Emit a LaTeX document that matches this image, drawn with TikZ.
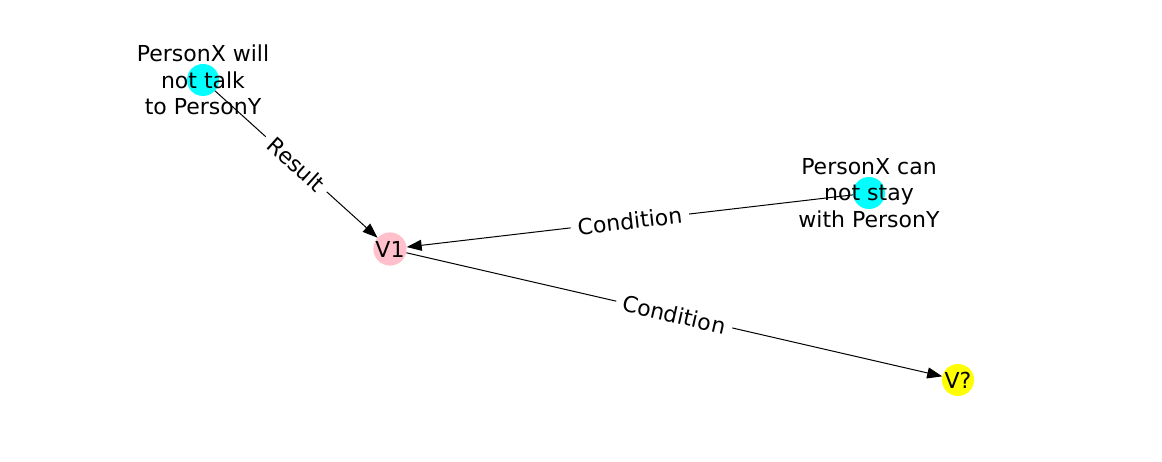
\documentclass[tikz,border=0pt]{standalone}
\usepackage{fontspec}
\setmainfont{DejaVu Sans}
\usetikzlibrary{arrows.meta}
\definecolor{nodecyan}{HTML}{00FFFF}
\definecolor{nodepink}{HTML}{FFC0CB}
\definecolor{nodeyellow}{HTML}{FFFF00}

\begin{document}
\begin{tikzpicture}[
  x=1pt, y=-1pt,
  vertex/.style={circle, minimum size=32pt, inner sep=0pt,
    font=\fontsize{22}{26.5}\selectfont},
  caption/.style={align=center, font=\fontsize{22}{26.5}\selectfont},
  rel/.style={-{Triangle[length=15pt, width=11pt]}, line width=1pt},
  tag/.style={sloped, fill=white, inner xsep=7pt, inner ysep=4pt,
    font=\fontsize{22}{26.5}\selectfont}
]
  \useasboundingbox (0,0) rectangle (1162,462);

  % event nodes, text centred on the circle
  \node[vertex, fill=nodecyan, label={[caption]center:{PersonX will\\not talk\\to PersonY}}]
    (talk) at (203,80) {};
  \node[vertex, fill=nodecyan, label={[caption]center:{PersonX can\\not stay\\with PersonY}}]
    (stay) at (869,193) {};
  \node[vertex, fill=nodepink] (v1) at (390,249) {V1};
  \node[vertex, fill=nodeyellow] (vq) at (958,380) {V?};

  % relations
  \draw[rel] (talk) -- node[tag] {Result} (v1);
  \draw[rel] (stay) -- node[tag] {Condition} (v1);
  \draw[rel] (v1) -- node[tag] {Condition} (vq);
\end{tikzpicture}
\end{document}
